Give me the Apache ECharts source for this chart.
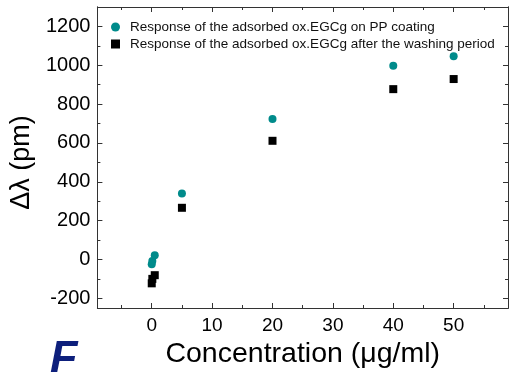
<!DOCTYPE html>
<html>
<head>
<meta charset="utf-8">
<script src="https://cdn.jsdelivr.net/npm/echarts@6/dist/echarts.min.js"></script>
<style>
html,body{margin:0;padding:0;background:#fff;}
#c{width:509px;height:377px;}
</style>
</head>
<body>
<div id="c"></div>
<script>
// ---- data ----
var seriesNames = [
  'Response of the adsorbed ox.EGCg on PP coating',
  'Response of the adsorbed ox.EGCg after the washing period'
];
var concPP   = [0, 0.1, 0.5, 5, 20, 40, 50];
var respPP   = [-25, -8, 22, 340, 723, 997, 1047];
var concWash = [0, 0.1, 0.5, 5, 20, 40, 50];
var respWash = [-123, -100, -81, 266, 611, 877, 929];
var xMajor = [0, 10, 20, 30, 40, 50];
var xMinor = [-5, 5, 15, 25, 35, 45, 55];
var yMajor = [-200, 0, 200, 400, 600, 800, 1000, 1200];
var yMinor = [-100, 100, 300, 500, 700, 900, 1100];

function pairs(xs, ys){ return xs.map(function(x,i){ return [x, ys[i]]; }); }

var chart = echarts.init(document.getElementById('c'), null, {renderer:'canvas'});
var FONT = 'Liberation Sans, Arial, sans-serif';
var lineStyle = {color:'#333', width:1};
function plain(v){ return String(v); }

function xAx(pos, ticks, len, labels, extra){
  return Object.assign({
    type:'value', position:pos, min:-9, max:59,
    axisLine:{show:true, onZero:false, lineStyle:lineStyle},
    axisTick:{show:true, inside:true, length:len, customValues:ticks, lineStyle:lineStyle},
    axisLabel:{show:labels, customValues:ticks, formatter:plain, fontSize:19, color:'#000', fontFamily:FONT, margin:8},
    splitLine:{show:false}
  }, extra||{});
}
function yAx(pos, ticks, len, labels, extra){
  return Object.assign({
    type:'value', position:pos, min:-250, max:1300,
    axisLine:{show:true, onZero:false, lineStyle:lineStyle},
    axisTick:{show:true, inside:true, length:len, customValues:ticks, lineStyle:lineStyle},
    axisLabel:{show:labels, customValues:ticks, formatter:plain, fontSize:20, color:'#000', fontFamily:FONT, margin:7},
    splitLine:{show:false}
  }, extra||{});
}

var option = {
  backgroundColor:'#fff',
  animation:false,
  grid:{left:97, right:1, top:7, bottom:69, containLabel:false},
  legend:{
    left:106, top:15, orient:'vertical', itemGap:3,
    itemWidth:9, itemHeight:9,
    textStyle:{fontSize:13.5, color:'#111', fontFamily:FONT, lineHeight:13, padding:[0,0,0,5]},
    data:[{name:seriesNames[0], icon:'circle'},{name:seriesNames[1], icon:'rect'}]
  },
  xAxis:[
    xAx('bottom', xMajor, 5, true, {
      name:'Concentration (\u03bcg/ml)', nameLocation:'middle', nameGap:30,
      nameTextStyle:{fontSize:28.5, color:'#000', fontFamily:FONT}
    }),
    xAx('bottom', xMinor, 3, false),
    xAx('top', xMajor, 5, false),
    xAx('top', xMinor, 3, false)
  ],
  yAxis:[
    yAx('left', yMajor, 5, true, {
      name:'\u0394\u03bb (pm)', nameLocation:'middle', nameGap:53,
      nameTextStyle:{fontSize:27, color:'#000', fontFamily:FONT, padding:[0,0,0,-10]}
    }),
    yAx('left', yMinor, 3, false),
    yAx('right', yMajor, 5, false),
    yAx('right', yMinor, 3, false)
  ],
  series:[
    {name:seriesNames[0], type:'scatter', symbol:'circle', symbolSize:8,
     itemStyle:{color:'#008b8b', opacity:1}, data:pairs(concPP, respPP), z:3},
    {name:seriesNames[1], type:'scatter', symbol:'rect', symbolSize:8,
     itemStyle:{color:'#000', opacity:1}, data:pairs(concWash, respWash), z:2}
  ],
  graphic:[
    {type:'text', left:50, top:337,
     style:{text:'F', font:'italic bold 45px Liberation Sans, Arial, sans-serif', fill:'#0d1f7c'}}
  ]
};
chart.setOption(option);
</script>
</body>
</html>
